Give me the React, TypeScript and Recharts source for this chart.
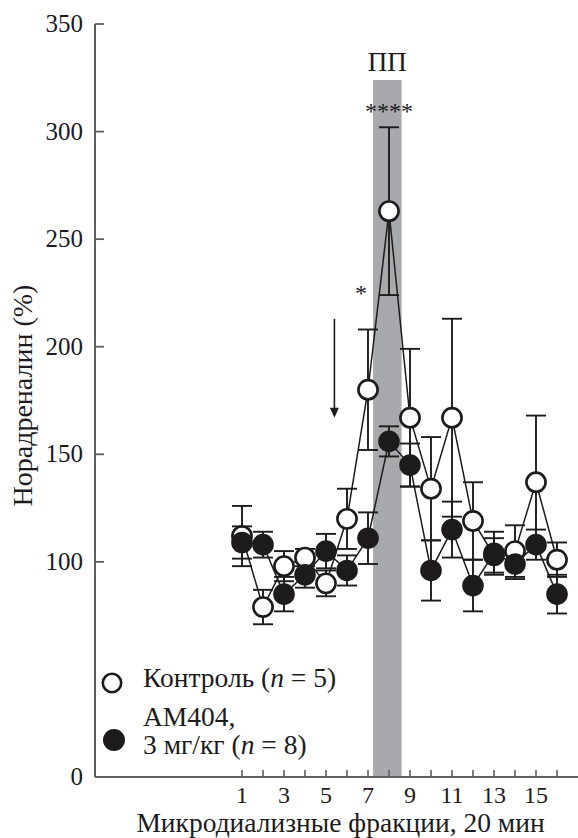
import React from 'react';
import {
  ComposedChart,
  Line,
  XAxis,
  YAxis,
  ErrorBar,
  ReferenceArea,
  ReferenceDot,
  ReferenceLine,
  Legend,
} from 'recharts';

const fractions = [1, 2, 3, 4, 5, 6, 7, 8, 9, 10, 11, 12, 13, 14, 15, 16];
const control = [112, 79, 98, 102, 90, 120, 180, 263, 167, 134, 167, 119, 103, 105, 137, 101];
const controlErr = [14, 8, 7, 4, 6, 14, 28, 39, 32, 24, 46, 18, 8, 12, 31, 8];
const am404 = [109, 108, 85, 94, 105, 96, 111, 156, 145, 96, 115, 89, 104, 99, 108, 85];
const am404Err = [7.5, 6, 8, 6, 8, 7, 12, 7, 10, 14, 13, 12, 10, 7, 7, 9];
const yTicks = [0, 100, 150, 200, 250, 300, 350];
const xLabelTicks = [1, 3, 5, 7, 9, 11, 13, 15];

const data = fractions.map((f, i) => ({
  f,
  control: control[i],
  controlErr: controlErr[i],
  am404: am404[i],
  am404Err: am404Err[i],
}));

const FONT = '"Liberation Serif", "DejaVu Serif", serif';
const INK = '#1d1b1c';
const AXIS = '#5f5f5f';

const XTick = (props: any) => {
  const { x, y, payload } = props;
  const v = payload.value;
  return (
    <g>
      <line x1={x} y1={y} x2={x} y2={y - 7} stroke={AXIS} strokeWidth={1.6} />
      {xLabelTicks.includes(v) && (
        <text x={x} y={y + 26} textAnchor="middle" fontSize={24} fontFamily={FONT} fill={INK}>
          {v}
        </text>
      )}
    </g>
  );
};

const YTick = (props: any) => {
  const { x, y, payload } = props;
  return (
    <g>
      <line x1={x} y1={y} x2={x + 9} y2={y} stroke={AXIS} strokeWidth={1.8} />
      <text x={x - 12} y={y + 8} textAnchor="end" fontSize={25} fontFamily={FONT} fill={INK}>
        {payload.value}
      </text>
    </g>
  );
};

const OpenDot = (props: any) => {
  const { cx, cy } = props;
  if (cx == null || cy == null) return null;
  return <circle cx={cx} cy={cy} r={9.6} fill="#fff" stroke={INK} strokeWidth={2.6} />;
};

const FilledDot = (props: any) => {
  const { cx, cy } = props;
  if (cx == null || cy == null) return null;
  return <circle cx={cx} cy={cy} r={10.8} fill={INK} stroke="none" />;
};

const Arrow = (props: any) => {
  const { x1, y1, x2, y2 } = props;
  return (
    <g>
      <line x1={x1} y1={y1} x2={x2} y2={y2 - 9} stroke={INK} strokeWidth={1.6} />
      <polygon points={`${x2 - 4.5},${y2 - 10} ${x2 + 4.5},${y2 - 10} ${x2},${y2}`} fill={INK} />
    </g>
  );
};

const starShape = (txt: string) => (props: any) => {
  const { cx, cy } = props;
  return (
    <text x={cx} y={cy + 12} textAnchor="middle" fontSize={24} fontFamily={FONT} fill={INK}>
      {txt}
    </text>
  );
};

const YLabel = (props: any) => {
  const vb = props.viewBox || {};
  const cx = (vb.x || 0) + 23;
  const cy = (vb.y || 0) + (vb.height || 0) / 2 - 5;
  return (
    <text
      x={cx}
      y={cy}
      dy={9}
      transform={`rotate(-90, ${cx}, ${cy})`}
      textAnchor="middle"
      fontSize={28}
      fontFamily={FONT}
      fill={INK}
    >
      Норадреналин (%)
    </text>
  );
};

const XLabel = (props: any) => {
  const vb = props.viewBox || {};
  const cx = (vb.x || 0) + (vb.width || 0) / 2 + 4;
  const by = (vb.y || 0) + (vb.height || 0) - 6;
  return (
    <text x={cx} y={by} textAnchor="middle" fontSize={27.5} fontFamily={FONT} fill={INK}>
      Микродиализные фракции, 20 мин
    </text>
  );
};

const LegendContent = () => (
  <svg width={340} height={140} style={{ display: 'block' }}>
    <circle cx={24} cy={35} r={9.2} fill="#fff" stroke={INK} strokeWidth={2.6} />
    <text x={55} y={39} fontSize={27.5} fontFamily={FONT} fill={INK}>
      Контроль (<tspan fontStyle="italic">n</tspan> = 5)
    </text>
    <circle cx={26} cy={92} r={11} fill={INK} />
    <text x={55} y={78} fontSize={27.5} fontFamily={FONT} fill={INK}>
      AM404,
    </text>
    <text x={55} y={106} fontSize={27.5} fontFamily={FONT} fill={INK}>
      3 мг/кг (<tspan fontStyle="italic">n</tspan> = 8)
    </text>
  </svg>
);

export default function App() {
  return (
    <div style={{ position: 'absolute', left: 0, top: 0, width: 578, height: 838, background: '#fff' }}>
      <ComposedChart
        width={578}
        height={838}
        data={data}
        margin={{ top: 24, right: 0, bottom: 0, left: 0 }}
      >
        <XAxis
          dataKey="f"
          type="number"
          domain={[-6, 17]}
          ticks={fractions}
          interval={0}
          height={61}
          tickSize={0}
          tickMargin={0}
          tickLine={false}
          axisLine={{ stroke: AXIS, strokeWidth: 2 }}
          tick={<XTick />}
          label={<XLabel />}
        />
        <YAxis
          type="number"
          domain={[0, 350]}
          ticks={yTicks}
          interval={0}
          width={95}
          tickSize={0}
          tickMargin={0}
          tickLine={false}
          axisLine={{ stroke: AXIS, strokeWidth: 2 }}
          tick={<YTick />}
          label={<YLabel />}
        />
        <ReferenceArea
          x1={7.24}
          x2={8.6}
          y1={0}
          y2={324}
          fill="#a8a9ac"
          fillOpacity={1}
          stroke="none"
          label={{ value: 'ПП', position: 'top', offset: 9, fontSize: 27, fontFamily: FONT, fill: INK }}
        />
        <Line
          dataKey="control"
          name="Контроль"
          type="linear"
          stroke={INK}
          strokeWidth={1.5}
          dot={<OpenDot />}
          activeDot={false}
          isAnimationActive={false}
        >
          <ErrorBar dataKey="controlErr" direction="y" width={10} stroke={INK} strokeWidth={1.9} />
        </Line>
        <Line
          dataKey="am404"
          name="AM404"
          type="linear"
          stroke={INK}
          strokeWidth={1.5}
          dot={<FilledDot />}
          activeDot={false}
          isAnimationActive={false}
        >
          <ErrorBar dataKey="am404Err" direction="y" width={10} stroke={INK} strokeWidth={1.9} />
        </Line>
        <ReferenceLine
          segment={[
            { x: 5.4, y: 213 },
            { x: 5.4, y: 167 },
          ]}
          stroke={INK}
          shape={<Arrow />}
        />
        <ReferenceDot x={8} y={311.5} r={0} shape={starShape('****')} />
        <ReferenceDot x={6.67} y={227} r={0} shape={starShape('*')} />
        <Legend
          layout="vertical"
          verticalAlign="middle"
          align="center"
          wrapperStyle={{ position: 'absolute', left: 88, top: 648, width: 340, height: 140 }}
          content={<LegendContent />}
        />
      </ComposedChart>
    </div>
  );
}
